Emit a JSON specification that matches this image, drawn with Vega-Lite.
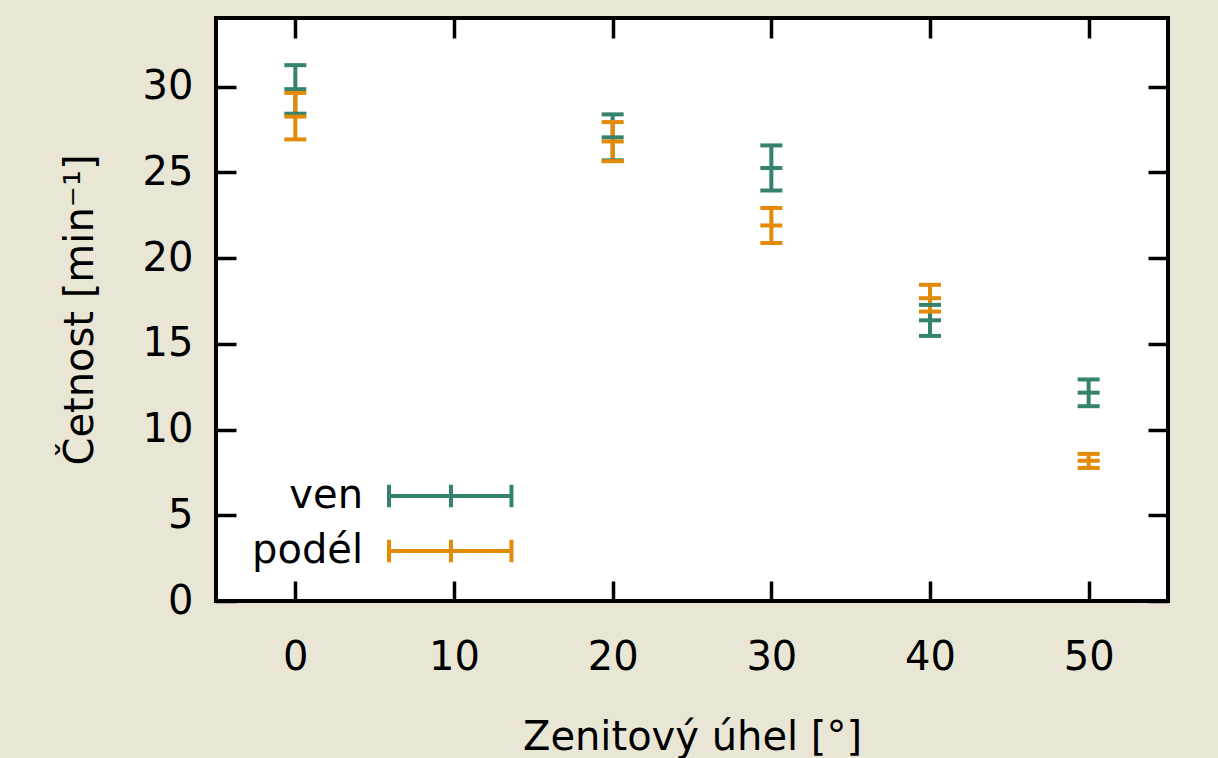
{
  "$schema": "https://vega.github.io/schema/vega-lite/v6.json",
  "width": 952,
  "height": 583,
  "autosize": "none",
  "padding": {"left": 216, "top": 18, "right": 50, "bottom": 157},
  "background": "#EAE6D6",
  "config": {
    "view": {"stroke": "black", "strokeWidth": 4, "fill": "white"},
    "font": "DejaVu Sans",
    "axis": {"labelFont": "DejaVu Sans", "titleFont": "DejaVu Sans", "labelColor": "black", "titleColor": "black", "titleFontWeight": "normal", "grid": false, "domain": false, "tickColor": "black", "tickWidth": 3.5}
  },
  "data": {
    "values": [
      {"angle": 0, "series": "ven", "val": 29.85, "lo": 28.42, "hi": 31.25},
      {"angle": 20, "series": "ven", "val": 27.04, "lo": 25.7, "hi": 28.38},
      {"angle": 30, "series": "ven", "val": 25.25, "lo": 23.94, "hi": 26.57},
      {"angle": 40, "series": "ven", "val": 16.37, "lo": 15.46, "hi": 17.27},
      {"angle": 50, "series": "ven", "val": 12.15, "lo": 11.36, "hi": 12.92},
      {"angle": 0, "series": "podél", "val": 28.25, "lo": 26.92, "hi": 29.63},
      {"angle": 20, "series": "podél", "val": 26.8, "lo": 25.65, "hi": 27.93},
      {"angle": 30, "series": "podél", "val": 21.9, "lo": 20.88, "hi": 22.92},
      {"angle": 40, "series": "podél", "val": 17.66, "lo": 16.88, "hi": 18.44},
      {"angle": 50, "series": "podél", "val": 8.18, "lo": 7.76, "hi": 8.58}
    ]
  },
  "layer": [
    {
      "mark": {"type": "rule", "strokeWidth": 4, "opacity": 1},
      "encoding": {
        "x": {"field": "angle", "type": "quantitative", "scale": {"domain": [-5, 55], "nice": false, "zero": false},
          "axis": {"orient": "bottom", "values": [0, 10, 20, 30, 40, 50], "tickSize": -20, "labelFontSize": 40, "labelPadding": 56, "title": "Zenitový úhel [°]", "titleFontSize": 40, "titlePadding": 40}},
        "y": {"field": "lo", "type": "quantitative", "scale": {"domain": [0, 34], "nice": false},
          "axis": {"orient": "left", "values": [0, 5, 10, 15, 20, 25, 30], "tickSize": -20, "labelFontSize": 40, "labelPadding": 43, "title": "Četnost [min⁻¹]", "titleFontSize": 40, "titlePadding": 42}},
        "y2": {"field": "hi"},
        "color": {"field": "series", "type": "nominal", "sort": null,
          "scale": {"domain": ["ven", "podél"], "range": ["#35836F", "#E38A06"]},
          "legend": {"orient": "none", "legendX": 215, "legendY": 458, "title": null, "padding": 0,
            "symbolType": "M-4,-0.72V0.72M-4,0H3.9M3.9,-0.72V0.72M0,-0.72V0.72",
            "symbolSize": 961, "symbolStrokeWidth": 4, "symbolFillColor": "transparent", "symbolOpacity": 1,
            "labelFontSize": 40, "labelFont": "DejaVu Sans", "labelColor": "black", "labelAlign": "right", "labelOffset": -108, "rowPadding": 15}}
      }
    },
    {
      "transform": [{"fold": ["lo", "val", "hi"], "as": ["kind", "v"]}],
      "mark": {"type": "tick", "orient": "horizontal", "size": 22, "thickness": 4, "opacity": 1},
      "encoding": {
        "x": {"field": "angle", "type": "quantitative",
          "axis": {"orient": "top", "values": [0, 10, 20, 30, 40, 50], "tickSize": -20, "labels": false, "title": null}},
        "y": {"field": "v", "type": "quantitative",
          "axis": {"orient": "right", "values": [0, 5, 10, 15, 20, 25, 30], "tickSize": -20, "labels": false, "title": null}},
        "color": {"field": "series", "type": "nominal", "sort": null, "legend": null}
      }
    }
  ],
  "resolve": {"axis": {"x": "independent", "y": "independent"}}
}
